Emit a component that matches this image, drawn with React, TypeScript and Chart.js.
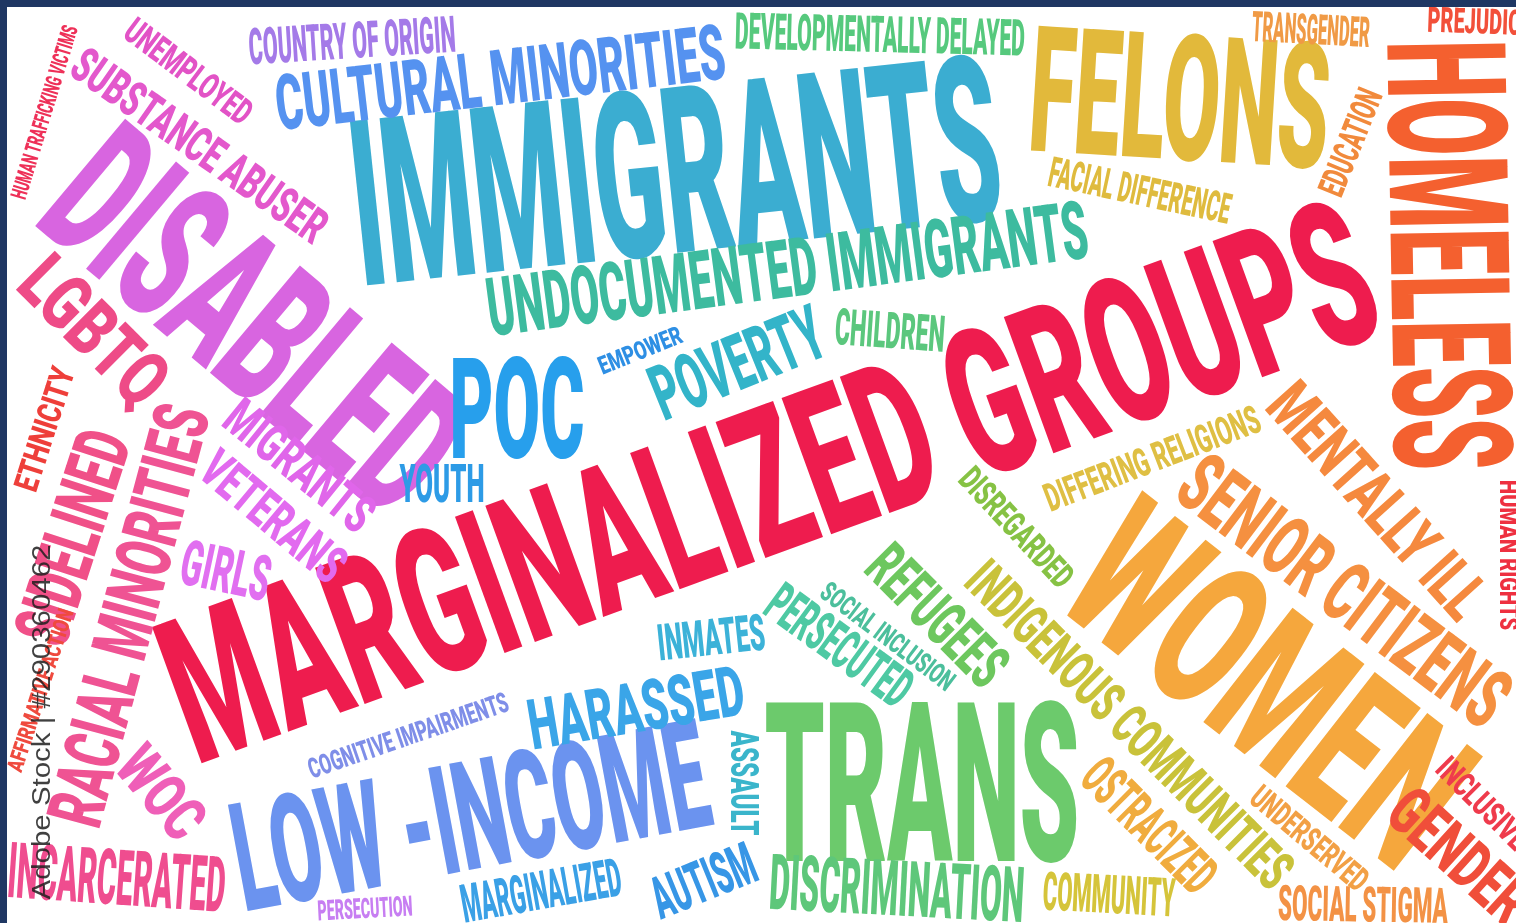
import React, { useEffect, useRef } from "react";
import { Chart, registerables } from "chart.js";

Chart.register(...registerables);

// Word-cloud data: each word is a point on a 1516 x 923 layout plane.
const words: string[] = [
  "MARGINALIZED GROUPS", "IMMIGRANTS", "FELONS", "HOMELESS", "DISABLED", "WOMEN", "TRANS", "LOW -INCOME",
  "UNDOCUMENTED IMMIGRANTS", "CULTURAL MINORITIES", "COUNTRY OF ORIGIN", "DEVELOPMENTALLY DELAYED",
  "TRANSGENDER", "PREJUDICE", "EDUCATION", "FACIAL DIFFERENCE", "POVERTY", "EMPOWER", "CHILDREN", "POC",
  "YOUTH", "SUBSTANCE ABUSER", "UNEMPLOYED", "HUMAN TRAFFICKING VICTIMS", "LGBTQ", "ETHNICITY", "SIDELINED",
  "RACIAL MINORITIES", "AFFIRMATIVE ACTION", "MIGRANTS", "VETERANS", "GIRLS", "WOC", "INCARCERATED",
  "COGNITIVE IMPAIRMENTS", "PERSECUTION", "MARGINALIZED", "HARASSED", "INMATES", "ASSAULT", "AUTISM",
  "DISCRIMINATION", "COMMUNITY", "SOCIAL STIGMA", "PERSECUTED", "SOCIAL INCLUSION", "REFUGEES",
  "DISREGARDED", "INDIGENOUS COMMUNITIES", "OSTRACIZED", "DIFFERING RELIGIONS", "SENIOR CITIZENS",
  "MENTALLY ILL", "HUMAN RIGHTS", "UNDERSERVED", "INCLUSIVE", "GENDER",
];

const xPos: number[] = [
  768, 675, 1180, 1450, 256, 1270, 922, 470,
  787, 500, 352, 880,
  1311, 1480, 1350, 1140, 737, 640, 890, 517,
  442, 200, 189, 44, 95, 44, 72,
  128, 40, 300, 274, 226, 162, 117,
  408, 365, 541, 636, 711, 745, 703,
  897, 1109, 1363, 840, 888, 938,
  1017, 1130, 1150, 1152, 1345,
  1378, 1509, 1310, 1483, 1460,
];

const yPos: number[] = [
  480, 170, 97, 255, 320, 682, 782, 815,
  268, 77, 40, 34,
  29, 21, 142, 190, 362, 350, 330, 408,
  483, 145, 71, 112, 330, 429, 537,
  615, 690, 465, 516, 570, 792, 877,
  735, 908, 890, 707, 637, 783, 880,
  888, 894, 904, 645, 636, 615,
  527, 724, 825, 458, 590,
  500, 555, 838, 803, 855,
];

const weight: number[] = [
  145, 165, 125, 118, 140, 145, 158, 108,
  58, 55, 36, 36,
  30, 25, 26, 30, 55, 18, 36, 100,
  38, 35, 26, 16, 55, 24, 55,
  55, 16, 38, 38, 45, 45, 55,
  20, 20, 38, 50, 36, 28, 42,
  55, 38, 35, 40, 20, 45,
  25, 40, 40, 28, 60,
  48, 18, 24, 24, 48,
];

const span: number[] = [
  1270, 650, 300, 430, 470, 440, 315, 480,
  605, 452, 207, 290,
  118, 105, 112, 185, 180, 88, 110, 135,
  85, 300, 150, 180, 175, 128, 220,
  432, 170, 176, 172, 90, 100, 218,
  210, 95, 162, 218, 108, 105, 108,
  255, 132, 170, 166, 160, 170,
  150, 436, 165, 228, 390,
  290, 150, 143, 115, 165,
];

const tilt: number[] = [
  -20, -6, 3.5, 89, 40, 38, 0, -10.5,
  -7.5, -6.6, -3.6, 1.4,
  3, 2, -68, 12, -22, -22, 4, 0,
  0, 35, 37, -73, 45, -72, -72,
  -75, -72, 39, 40, 12, 50, 4,
  -19, -3, -10, -9.5, -6, 90, -22,
  3, 3, 1, 36, 37, 45,
  47, 45, 45, -21, 37,
  48, 90, 40, 45, 42,
];

const inks: string[] = [
  "#ee1c4e", "#3badd1", "#e2b93b", "#f4602f", "#d865e0", "#f5a73d", "#6cca6c", "#6b93ef",
  "#3dbb9f", "#5592f0", "#a47ae8", "#56c97d",
  "#f09a45", "#f2503a", "#f18a3c", "#dfbb3e", "#33b4c9", "#2e8fe4", "#5bc77d", "#279fec",
  "#2d9be6", "#e358cc", "#e253c6", "#ee3058", "#ee4b87", "#ee3f3a", "#f05088",
  "#ef5393", "#ef4a3e", "#e066ea", "#e26aef", "#e16ff0", "#ef5fb8", "#ef4d8f",
  "#7f8ee8", "#c77ef2", "#3aa0e6", "#3aa5e8", "#3cb2d8", "#3ab5cb", "#3796e6",
  "#5ec77a", "#d5c43a", "#f39245", "#4ec9a3", "#4cbf9c", "#6dc75e",
  "#86c244", "#c9c23a", "#f0ac3e", "#dfbf43", "#f59040",
  "#f5893e", "#ee3040", "#f2a045", "#ef3b4c", "#f04e3a",
];

const stampText = "Adobe Stock | #290360462";
const stampX = 43;
const stampY = 722;

const FONT = '"Roboto", "Liberation Sans", sans-serif';

const cloudPlugin = {
  id: "wordCloud",
  beforeDraw(chart: any) {
    const { ctx, width, height } = chart;
    ctx.save();
    ctx.fillStyle = "#ffffff";
    ctx.fillRect(0, 0, width, height);
    ctx.restore();
  },
  afterDatasetsDraw(chart: any) {
    const { ctx, width, height } = chart;
    const xs = chart.scales.x;
    const ys = chart.scales.y;
    const unitY = Math.abs(ys.getPixelForValue(100) - ys.getPixelForValue(0)) / 100;
    const unitX = Math.abs(xs.getPixelForValue(100) - xs.getPixelForValue(0)) / 100;
    words.forEach((w, i) => {
      const px = xs.getPixelForValue(xPos[i]);
      const py = ys.getPixelForValue(yPos[i]);
      const h = weight[i] * unitY;
      const len = span[i] * unitX;
      const fs = h / 0.711;
      ctx.save();
      ctx.translate(px, py);
      ctx.rotate((tilt[i] * Math.PI) / 180);
      ctx.font = `900 ${fs}px ${FONT}`;
      const m = ctx.measureText(w).width;
      ctx.scale(len / m, 1);
      ctx.textAlign = "center";
      ctx.textBaseline = "alphabetic";
      ctx.fillStyle = inks[i];
      ctx.fillText(w, 0, h / 2);
      ctx.restore();
    });
    // stock watermark
    ctx.save();
    ctx.translate(xs.getPixelForValue(stampX), ys.getPixelForValue(stampY));
    ctx.rotate(-Math.PI / 2);
    ctx.font = `400 25px "Liberation Sans", "DejaVu Sans", sans-serif`;
    const sm = ctx.measureText(stampText).width;
    ctx.scale(355 / sm, 1);
    ctx.textAlign = "center";
    ctx.textBaseline = "middle";
    ctx.fillStyle = "rgba(30,30,30,0.85)";
    ctx.fillText(stampText, 0, 0);
    ctx.restore();
    // frame
    ctx.save();
    ctx.fillStyle = "#1f3763";
    ctx.fillRect(0, 0, width, 7);
    ctx.fillRect(0, 0, 7, height);
    ctx.restore();
  },
};

export default function App() {
  const ref = useRef<HTMLCanvasElement | null>(null);
  useEffect(() => {
    document.body.style.margin = "0";
    document.body.style.overflow = "hidden";
    const canvas = ref.current;
    if (!canvas) return;
    const chart = new Chart(canvas, {
      type: "scatter",
      data: {
        datasets: [
          {
            label: "words",
            data: words.map((_, i) => ({ x: xPos[i], y: yPos[i] })),
            pointRadius: 0,
            pointHoverRadius: 0,
          },
        ],
      },
      options: {
        animation: false,
        responsive: false,
        maintainAspectRatio: false,
        layout: { padding: 0 },
        plugins: { legend: { display: false }, tooltip: { enabled: false } },
        events: [],
        scales: {
          x: { type: "linear", min: 0, max: 1516, display: false },
          y: { type: "linear", min: 0, max: 923, reverse: true, display: false },
        },
      },
      plugins: [cloudPlugin],
    });
    return () => chart.destroy();
  }, []);
  return (
    <div style={{ position: "absolute", left: 0, top: 0, width: 1516, height: 923 }}>
      <canvas ref={ref} width={1516} height={923} style={{ display: "block" }} />
    </div>
  );
}
